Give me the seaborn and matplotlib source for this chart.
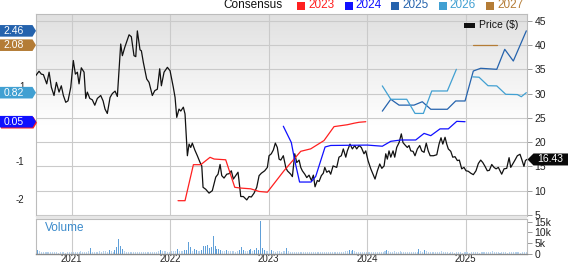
import numpy as np
import pandas as pd
import matplotlib
matplotlib.use("Agg")
import matplotlib.pyplot as plt
import seaborn as sns
from matplotlib.patches import Polygon, Rectangle
from matplotlib.transforms import IdentityTransform

# ---------------- data ----------------
years = [2021, 2022, 2023, 2024, 2025]
year_labels = ["2021", "2022", "2023", "2024", "2025"]

price_t = [2020.635, 2020.668, 2020.691, 2020.712, 2020.746, 2020.770, 2020.793, 2020.820, 2020.844, 2020.871,
           2020.894, 2020.915, 2020.939, 2020.962, 2020.990, 2021.016, 2021.037, 2021.057, 2021.074, 2021.097,
           2021.125, 2021.142, 2021.158, 2021.183, 2021.209, 2021.234, 2021.260, 2021.294, 2021.318, 2021.338,
           2021.361, 2021.389, 2021.412, 2021.440, 2021.463, 2021.480, 2021.497, 2021.514, 2021.538, 2021.582,
           2021.605, 2021.632, 2021.650, 2021.666, 2021.693, 2021.707, 2021.727, 2021.761, 2021.785, 2021.818,
           2021.843, 2021.869, 2021.893, 2021.910, 2021.937, 2021.971, 2021.998, 2022.031, 2022.049, 2022.066,
           2022.089, 2022.107, 2022.133, 2022.150, 2022.174, 2022.191, 2022.208, 2022.224, 2022.249, 2022.275,
           2022.303, 2022.320, 2022.333, 2022.360, 2022.394, 2022.427, 2022.462, 2022.485, 2022.506, 2022.523,
           2022.546, 2022.574, 2022.597, 2022.620, 2022.641, 2022.665, 2022.688, 2022.698, 2022.716, 2022.742,
           2022.777, 2022.800, 2022.823, 2022.851, 2022.878, 2022.902, 2022.925, 2022.959, 2022.986, 2023.003,
           2023.026, 2023.047, 2023.067, 2023.087, 2023.105, 2023.122, 2023.148, 2023.173, 2023.189, 2023.223,
           2023.240, 2023.264, 2023.284, 2023.308, 2023.325, 2023.341, 2023.366, 2023.386, 2023.409, 2023.433,
           2023.453, 2023.470, 2023.493, 2023.511, 2023.534, 2023.554, 2023.569, 2023.589, 2023.612, 2023.629,
           2023.653, 2023.690, 2023.713, 2023.737, 2023.757, 2023.782, 2023.798, 2023.825, 2023.849, 2023.873,
           2023.893, 2023.917, 2023.940, 2023.967, 2023.985, 2024.008, 2024.036, 2024.059, 2024.079, 2024.103,
           2024.127, 2024.148, 2024.171, 2024.188, 2024.204, 2024.221, 2024.239, 2024.262, 2024.279, 2024.299,
           2024.323, 2024.346, 2024.363, 2024.384, 2024.407, 2024.424, 2024.442, 2024.465, 2024.485, 2024.509,
           2024.533, 2024.553, 2024.577, 2024.599, 2024.619, 2024.639, 2024.673, 2024.706, 2024.729, 2024.749,
           2024.767, 2024.790, 2024.807, 2024.823, 2024.848, 2024.868, 2024.891, 2024.915, 2024.935, 2024.959,
           2024.982, 2025.003, 2025.026, 2025.051, 2025.077, 2025.104, 2025.128, 2025.152, 2025.173, 2025.196,
           2025.219, 2025.240, 2025.264, 2025.287, 2025.308, 2025.331, 2025.348, 2025.365, 2025.389, 2025.416,
           2025.440, 2025.457, 2025.477, 2025.500, 2025.524, 2025.551, 2025.568, 2025.591, 2025.606, 2025.620]
price_v = [33.7, 34.6, 34.0, 33.9, 32.0, 34.4, 31.3, 29.6, 32.3, 30.3,
           31.6, 29.6, 28.2, 28.5, 31.3, 36.8, 34.0, 34.4, 32.0, 35.3,
           34.4, 29.0, 30.3, 29.0, 28.7, 27.6, 29.0, 29.6, 28.5, 26.8,
           25.9, 29.2, 30.0, 30.5, 29.4, 34.7, 40.2, 37.8, 39.5, 42.1,
           41.7, 37.8, 37.6, 42.9, 39.0, 38.8, 36.4, 33.0, 32.3, 29.6,
           30.6, 30.9, 35.1, 31.6, 34.4, 35.4, 34.7, 31.3, 29.2, 25.1,
           26.8, 26.4, 27.2, 25.8, 17.2, 19.6, 18.9, 19.8, 18.4, 17.2,
           15.8, 15.1, 10.7, 10.3, 9.5, 10.0, 12.8, 13.4, 15.4, 13.1,
           12.6, 13.4, 13.5, 14.1, 12.4, 13.1, 13.8, 12.1, 8.8, 8.8,
           8.1, 8.8, 8.7, 9.5, 10.7, 13.1, 13.6, 14.1, 14.8, 17.2,
           17.6, 18.4, 19.8, 18.9, 16.5, 16.3, 17.2, 14.8, 14.1, 13.4,
           12.9, 17.6, 15.8, 16.3, 14.8, 14.1, 13.4, 12.7, 13.2, 12.1,
           13.2, 10.8, 12.1, 11.9, 13.1, 13.6, 14.8, 13.8, 14.1, 13.4,
           15.1, 14.8, 16.9, 17.2, 18.6, 16.9, 18.2, 19.6, 18.6, 19.3,
           18.6, 19.3, 18.9, 17.6, 18.2, 16.2, 14.5, 13.4, 12.4, 14.1,
           15.5, 14.6, 15.1, 17.6, 16.5, 18.2, 16.9, 18.2, 16.9, 18.9,
           19.9, 21.7, 19.9, 19.4, 18.9, 19.3, 18.2, 18.1, 17.2, 18.6,
           19.3, 18.2, 17.9, 19.8, 18.2, 17.2, 17.2, 17.4, 19.6, 20.9,
           19.6, 21.0, 19.6, 18.6, 18.1, 16.9, 17.0, 16.2, 16.3, 14.5,
           14.8, 14.1, 14.0, 13.6, 13.3, 14.1, 15.6, 16.3, 15.8, 15.0,
           14.1, 14.2, 15.4, 14.8, 14.5, 14.8, 14.1, 13.4, 14.5, 14.6,
           16.8, 14.8, 15.5, 16.3, 17.2, 17.5, 16.5, 15.0, 16.2, 16.43]
last_price = 16.43

eps_2023_t = [2022.079, 2022.150, 2022.235, 2022.310, 2022.404, 2022.445, 2022.563, 2022.655, 2022.716,
              2022.817, 2022.902, 2022.986, 2023.155, 2023.325, 2023.426, 2023.561, 2023.663, 2023.798,
              2023.866, 2023.917, 2023.985]
eps_2023_v = [-2.045, -2.045, -1.09, -1.09, -0.894, -0.94, -0.96, -1.69, -1.71,
              -1.73, -1.80, -1.82, -1.25, -0.735, -0.67, -0.45, -0.08, -0.03,
              0.01, 0.035, 0.05]

eps_2024_t = [2023.148, 2023.229, 2023.264, 2023.313, 2023.430, 2023.477, 2023.528, 2023.572, 2023.629,
              2024.001, 2024.153, 2024.239, 2024.340, 2024.492, 2024.577, 2024.645, 2024.739, 2024.823,
              2024.909, 2024.993]
eps_2024_v = [-0.07, -0.50, -0.98, -1.55, -1.55, -1.40, -0.98, -0.62, -0.58,
              -0.57, -0.60, -0.47, -0.435, -0.435, -0.26, -0.32, -0.14, -0.14,
              0.06, 0.05]

eps_2025_t = [2024.153, 2024.239, 2024.323, 2024.475, 2024.559, 2024.645, 2024.813, 2024.898, 2024.993,
              2025.077, 2025.152, 2025.315, 2025.396, 2025.483, 2025.615]
eps_2025_v = [0.33, 0.645, 0.49, 0.49, 0.58, 0.38, 0.38, 0.60, 0.60,
              1.395, 1.467, 1.44, 1.97, 1.66, 2.46]

eps_2026a_t = [2024.153, 2024.239, 2024.401, 2024.485, 2024.570, 2024.655, 2024.813, 2024.905]
eps_2026a_v = [1.00, 0.645, 0.645, 0.27, 0.27, 0.865, 0.865, 1.44]
eps_2026b_t = [2025.071, 2025.135, 2025.226, 2025.315, 2025.406, 2025.524, 2025.564, 2025.615]
eps_2026b_v = [1.24, 1.23, 1.005, 1.00, 0.777, 0.77, 0.713, 0.82]

eps_2027_t = [2025.077, 2025.315]
eps_2027_v = [2.085, 2.085]

series_names = ["2023", "2024", "2025", "2026", "2027"]
series_colors = ["#ff2020", "#1010ff", "#2563ad", "#41a0d2", "#b47c36"]
eps_tags = [("2.46", 2.46, "#2563ad"), ("2.08", 2.08, "#b47c36"),
            ("0.82", 0.82, "#41a0d2"), ("0.05", 0.05, "#1010ff")]

vol_start = "2020-08-20"
volume_k = [1.3, 1.5, 1.1, 0.9, 0.8, 0.6, 0.6, 0.5, 0.6, 0.5,
            0.5, 0.6, 0.4, 0.5, 0.6, 0.5, 0.4, 0.5, 0.6, 0.5,
            0.6, 0.9, 0.7, 0.8, 1.1, 0.8, 0.7, 0.9, 1.0, 2.8,
            0.8, 0.7, 0.6, 0.8, 1.0, 0.9, 1.2, 1.1, 0.8, 1.5,
            1.3, 0.9, 1.6, 3.0, 6.8, 3.5, 2.0, 1.4, 0.9, 0.8,
            0.7, 0.6, 0.6, 0.5, 0.7, 0.6, 0.5, 0.6, 0.5, 0.6,
            0.5, 0.6, 0.7, 0.6, 0.8, 1.0, 1.5, 1.4, 1.3, 1.1,
            0.9, 0.8, 1.0, 1.2, 1.1, 2.0, 1.3, 1.1, 1.4, 1.6,
            1.8, 5.6, 3.0, 1.4, 2.0, 1.6, 1.2, 1.1, 1.5, 3.5,
            3.5, 4.0, 2.4, 3.0, 8.3, 3.5, 2.2, 2.0, 1.6, 1.3,
            1.2, 1.5, 1.1, 1.0, 1.3, 1.0, 0.9, 1.4, 1.6, 3.0,
            1.5, 1.2, 1.4, 1.6, 2.2, 1.3, 1.8, 2.5, 1.6, 15.5,
            2.5, 1.5, 1.2, 1.0, 1.3, 1.5, 1.1, 0.9, 1.2, 1.0,
            0.9, 1.1, 1.3, 2.4, 1.2, 0.8, 0.9, 0.7, 0.8, 0.6,
            0.7, 0.8, 0.6, 0.5, 0.6, 0.7, 0.5, 0.6, 0.5, 0.8,
            0.6, 0.5, 0.7, 0.9, 0.6, 0.5, 0.6, 0.5, 0.7, 0.6,
            0.5, 0.6, 0.8, 0.9, 1.0, 1.3, 1.8, 1.2, 1.8, 1.0,
            0.8, 0.6, 0.5, 0.6, 0.7, 0.5, 0.6, 0.5, 0.6, 0.5,
            0.5, 0.6, 0.7, 0.8, 0.6, 1.0, 1.8, 1.3, 0.9, 0.7,
            1.0, 0.9, 0.8, 1.0, 0.7, 0.6, 0.8, 0.5, 0.6, 0.5,
            0.6, 0.7, 0.9, 2.3, 1.1, 0.8, 1.8, 1.0, 0.7, 0.6,
            0.6, 0.5, 0.7, 0.8, 0.9, 1.3, 0.8, 0.6, 0.5, 0.4,
            0.5, 0.6, 0.4, 0.5, 0.6, 0.5, 0.4, 0.5, 0.6, 0.5,
            0.4, 0.5, 0.6, 0.7, 0.5, 0.4, 0.5, 0.6, 0.8, 0.9,
            0.7, 0.9, 1.2, 0.8, 0.6, 0.5, 0.4, 0.5, 0.6, 0.5,
            0.4, 0.5, 0.6, 0.5, 0.9, 0.6, 0.5, 0.4, 0.5, 0.5,
            0.6]
price_ticks = [5, 10, 15, 20, 25, 30, 35, 40, 45]
eps_ticks = [-2, -1, 1]
vol_ticks = [0, 5, 10, 15]
vol_tick_labels = ["0", "5k", "10k", "15k"]

# ---------------- style ----------------
sns.set_style("white")
plt.rcParams["font.family"] = ["Liberation Sans", "DejaVu Sans"]
plt.rcParams["axes.unicode_minus"] = False

W, H = 568, 264
fig = plt.figure(figsize=(W / 100, H / 100), dpi=100)
fig.patch.set_facecolor("white")


def fx(x):
    return x / W


def fy(y):
    return 1 - y / H


L, R, T, B = 35.5, 527.3, 14.0, 216.0
VT, VB = 218.5, 253.5
ax = fig.add_axes([fx(L), fy(B), fx(R) - fx(L), (B - T) / H])
axv = fig.add_axes([fx(L), fy(VB), fx(R) - fx(L), (VB - VT) / H])
ax_e = ax.twinx()

xlim = (2020.632, 2025.625)
grid_c = "#cacaca"
spine_c = "#bcbcbc"

# gradient background
n = 200
shade = np.ones(n)
k = int(n * 0.55)
shade[:k] = np.linspace(0.88, 1.0, k)
grad = np.dstack([shade, shade, shade]).reshape(n, 1, 3)
ax.imshow(grad, extent=[0, 1, 0, 1], transform=ax.transAxes, aspect="auto",
          zorder=0, interpolation="bilinear")

ax.set_xlim(*xlim)
ax.set_ylim(4.79, 46.38)
ax_e.set_ylim(-2.451, 2.907)

ax.set_xticks(years)
ax.set_yticks(price_ticks)
ax.grid(True, color=grid_c, lw=0.8)
ax.set_axisbelow(True)
ax.yaxis.tick_right()
ax.tick_params(axis="y", right=True, left=False, labelright=True, labelleft=False,
               length=3.5, width=0.7, color="#9a9a9a", labelsize=7.5, pad=1.8, labelcolor="#222222")
ax.tick_params(axis="x", bottom=False, labelbottom=False)
for s in ax.spines.values():
    s.set_color(spine_c)
    s.set_linewidth(0.8)

ax_e.yaxis.tick_left()
ax_e.set_yticks(eps_ticks)
ax_e.set_yticklabels([str(v) for v in eps_ticks])
ax_e.tick_params(axis="y", left=True, right=False, labelleft=True, labelright=False,
                 length=0, labelsize=7, pad=8, labelcolor="#222222")
for s in ax_e.spines.values():
    s.set_visible(False)

# price line
sns.lineplot(x=price_t, y=price_v, ax=ax, color="#111111", lw=0.9,
             estimator=None, sort=False, legend=False, zorder=4)

# consensus lines
eps_series = [(eps_2023_t, eps_2023_v, series_colors[0]),
              (eps_2024_t, eps_2024_v, series_colors[1]),
              (eps_2025_t, eps_2025_v, series_colors[2]),
              (eps_2026a_t, eps_2026a_v, series_colors[3]),
              (eps_2026b_t, eps_2026b_v, series_colors[3]),
              (eps_2027_t, eps_2027_v, series_colors[4])]
for tt, vv, c in eps_series:
    sns.lineplot(x=tt, y=vv, ax=ax_e, color=c, lw=0.9, estimator=None,
                 sort=False, legend=False)
ax_e.set_xlim(*xlim)
ax_e.set_ylim(-2.451, 2.907)
ax_e.set_ylabel("")
ax.set_ylabel("")

# volume panel
def to_decimal_year(d):
    days = 366 if d.is_leap_year else 365
    return d.year + (d.dayofyear - 1) / days

vol_dates = pd.date_range(vol_start, periods=len(volume_k), freq="7D")
vol_t = [to_decimal_year(d) for d in vol_dates]
vol_colors = ["#5f9fd8" if v >= 1.5 else "#b6d3ee" for v in volume_k]
axv.bar(vol_t, volume_k, width=0.0105, color=vol_colors, linewidth=0, zorder=2)
axv.set_xlim(*xlim)
axv.set_ylim(0, 16.6)
axv.set_xticks(years)
axv.set_xticklabels(year_labels)
axv.grid(True, axis="x", color=grid_c, lw=0.8)
axv.set_axisbelow(True)
axv.yaxis.tick_right()
axv.set_yticks(vol_ticks)
axv.set_yticklabels(vol_tick_labels)
axv.tick_params(axis="y", right=True, left=False, labelright=True, labelleft=False,
                length=3.5, width=0.7, color="#9a9a9a", labelsize=7.5, pad=1.8, labelcolor="#222222")
axv.tick_params(axis="x", bottom=False, length=0, labelsize=7, pad=0.6, labelcolor="#222222")
for name, s in axv.spines.items():
    s.set_color(spine_c)
    s.set_linewidth(0.8)
axv.spines["bottom"].set_color("#8a8a8a")
axv.spines["bottom"].set_linewidth(1.0)
axv.text(0.02, 0.72, "Volume", transform=axv.transAxes, color="#3a8acb",
         fontsize=8.5, va="center", ha="left")

# separator band between panels
fig.add_artist(Rectangle((fx(L), fy(VT)), fx(R) - fx(L), (VT - B) / H,
                         transform=fig.transFigure, fc="#e6e6e6", ec="none", zorder=1))

# ---------------- top legend ----------------
fig.text(fx(223), fy(5.5), "Consensus", fontsize=8.5, color="#111111", va="center", ha="left")
sq_x = [297, 344.5, 391, 438.5, 486]
for xs, name, c in zip(sq_x, series_names, series_colors):
    fig.add_artist(Rectangle((fx(xs), fy(9.5)), 8 / W, 7.5 / H, transform=fig.transFigure,
                             fc=c, ec="none", zorder=6))
    fig.text(fx(xs + 11), fy(5.5), name, fontsize=8.5, color=c, va="center", ha="left")

# price legend inside plot
fig.add_artist(Rectangle((fx(464), fy(27.5)), 10.5 / W, 5 / H, transform=fig.transFigure,
                         fc="#111111", ec="none", zorder=6))
fig.text(fx(479), fy(25.5), r"Price (\$)", fontsize=7.5, color="#111111", va="center", ha="left")

# ---------------- value tags ----------------
ident = IdentityTransform()
hh = 5.8


def left_tag(label, value, color, dx=0.0, dy=0.0, text=True):
    yd = ax_e.transData.transform((xlim[0], value))[1] + dy
    verts = [(0 + dx, yd - hh), (32.5 + dx, yd - hh), (36 + dx, yd),
             (32.5 + dx, yd + hh), (0 + dx, yd + hh)]
    fig.add_artist(Polygon(verts, closed=True, transform=ident, fc=color, ec="none", zorder=7))
    if text:
        fig.text(3.5 / W, yd / H, label, fontsize=7.5, color="white", va="center",
                 ha="left", zorder=8)


left_tag("", 0.05, series_colors[0], dx=1.0, dy=-1.0, text=False)
for label, value, color in eps_tags:
    left_tag(label, value, color)

yd = ax.transData.transform((xlim[0], last_price))[1]
verts = [(527.5, yd), (533.5, yd + 6), (W + 1, yd + 6), (W + 1, yd - 6), (533.5, yd - 6)]
fig.add_artist(Polygon(verts, closed=True, transform=ident, fc="#0a0a0a", ec="none", zorder=7))
fig.text(550.5 / W, yd / H, f"{last_price:.2f}", fontsize=7.5, color="white",
         va="center", ha="center", zorder=8)

fig.savefig("out.png", dpi=100)
